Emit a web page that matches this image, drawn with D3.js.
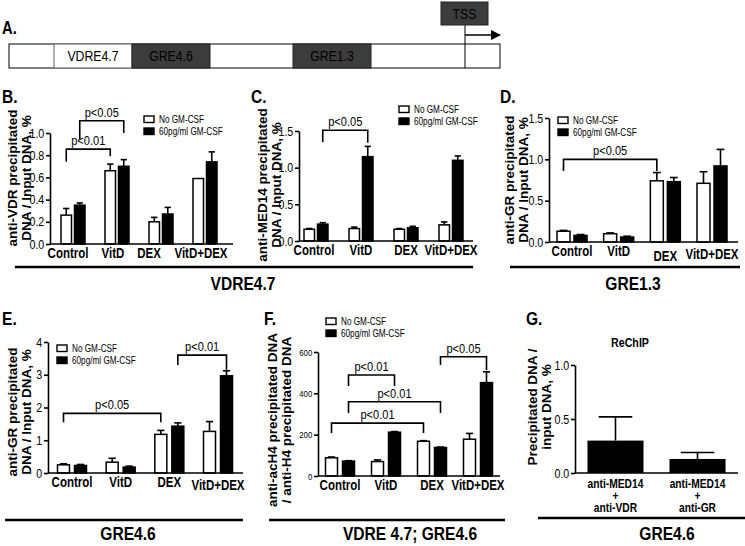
<!DOCTYPE html>
<html>
<head>
<meta charset="utf-8">
<script src="https://cdn.jsdelivr.net/npm/d3@7"></script>
<style>
  body { margin: 0; background: #fff; }
  text { font-family: "Liberation Sans", Arial, sans-serif; fill: #000; }
  .rot { font-weight: bold; font-size: 13.5px; }
</style>
</head>
<body>
<svg id="fig" width="745" height="546"></svg>
<script>
"use strict";

var treatments = ["Control", "VitD", "DEX", "VitD+DEX"];
var seriesNames = ["No GM-CSF", "60pg/ml GM-CSF"];

// B. anti-VDR ChIP, VDRE4.7
var vdrNo = [0.26, 0.66, 0.20, 0.59], vdrNoErr = [0.06, 0.06, 0.04, 0.0];
var vdrGm = [0.35, 0.70, 0.27, 0.74], vdrGmErr = [0.02, 0.06, 0.06, 0.09];
var vdrTicks = [0, 0.2, 0.4, 0.6, 0.8, 1.0];

// C. anti-MED14 ChIP, VDRE4.7
var medNo = [0.16, 0.17, 0.16, 0.22], medNoErr = [0.01, 0.02, 0.01, 0.04];
var medGm = [0.23, 1.15, 0.18, 1.10], medGmErr = [0.02, 0.14, 0.02, 0.06];
var medTicks = [0, 0.5, 1.0, 1.5];

// D. anti-GR ChIP, GRE1.3
var gr13No = [0.13, 0.10, 0.74, 0.71], gr13NoErr = [0.01, 0.01, 0.10, 0.14];
var gr13Gm = [0.08, 0.06, 0.73, 0.92], gr13GmErr = [0.01, 0.01, 0.05, 0.20];
var gr13Ticks = [0, 0.5, 1.0, 1.5];

// E. anti-GR ChIP, GRE4.6
var gr46No = [0.25, 0.33, 1.18, 1.27], gr46NoErr = [0.03, 0.12, 0.12, 0.30];
var gr46Gm = [0.23, 0.18, 1.43, 2.97], gr46GmErr = [0.03, 0.03, 0.10, 0.15];
var gr46Ticks = [0, 1, 2, 3, 4];

// F. acH4 / H4, VDRE 4.7; GRE4.6
var h4No = [88, 70, 168, 178], h4NoErr = [4, 8, 3, 28];
var h4Gm = [72, 212, 138, 452], h4GmErr = [2, 3, 2, 52];
var h4Ticks = [0, 200, 400, 600];

// G. ReChIP, GRE4.6
var rechipPairs = [["anti-MED14", "+", "anti-VDR"], ["anti-MED14", "+", "anti-GR"]];
var rechipVal = [0.30, 0.13], rechipErr = [0.22, 0.06];
var rechipTicks = [0, 0.5, 1.0];

// significance brackets: [fromCat, fromSeries, toCat, toSeries, top, leftEnd, rightEnd, label]
var vdrSig = [[0, 0, 1, 0, 0.855, 0.74, 0.79, "p<0.01"], [0, 1, 1, 1, 1.11, 0.94, 1.0, "p<0.05"]];
var medSig = [[0, 1, 1, 1, 1.51, 1.35, 1.34, "p<0.05"]];
var gr13Sig = [[0, 0, 2, 0, 1.0, 0.86, 0.86, "p<0.05"]];
var gr46Sig = [[0, 0, 2, 0, 1.82, 1.55, 1.55, "p<0.05"], [2, 1, 3, 1, 3.6, 3.3, 3.15, "p<0.01"]];
var h4Sig = [[0, 1, 1, 1, 489, 435, 435, "p<0.01"], [0, 1, 2, 1, 359, 305, 305, "p<0.01"],
             [0, 0, 2, 0, 256, 208, 208, "p<0.01"], [2, 1, 3, 1, 577, 537, 513, "p<0.05"]];

// A. promoter schematic (schematic units, not to scale)
var promoterEdges = [0, 45, 123, 201, 284, 362, 456, 491];
var promoterNames = ["", "VDRE4.7", "GRE4.6", "", "GRE1.3", "", ""];
var promoterKinds = ["plain", "vdre", "gre", "plain", "gre", "plain", "plain"];
var tssPos = 456;

var NARROW = 0.82;
var svg = d3.select("#fig");

// horizontal text is condensed, like the original figure
function ntext(parent, x, y, str, size, opts) {
  opts = opts || {};
  return parent.append("text")
    .attr("transform", "translate(" + x + "," + y + ") scale(" + NARROW + ",1)")
    .attr("text-anchor", opts.anchor || "middle")
    .attr("font-size", size)
    .attr("font-weight", opts.bold ? "bold" : null)
    .attr("fill", opts.fill || "#000")
    .text(str);
}

function bracket(g, x, y, s) {
  var xl = x(s[0], s[1]), xr = x(s[2], s[3]);
  g.append("path")
    .attr("fill", "none").attr("stroke", "#000").attr("stroke-width", 1.6)
    .attr("d", "M" + xl + "," + y(s[5]) + "V" + y(s[4]) + "H" + xr + "V" + y(s[6]));
  ntext(g, (xl + xr) / 2, y(s[4]) - 4, s[7], 13.5);
}

function rotTitle(lines, cx, cy) {
  lines.forEach(function(t, i) {
    svg.append("text").attr("class", "rot")
      .attr("transform", "translate(" + (cx + i * 14) + "," + cy + ") rotate(-90) scale(1,0.88)")
      .attr("text-anchor", "middle").attr("dy", "0.35em")
      .text(t);
  });
}

function legend(x, y) {
  var lg = svg.append("g").attr("transform", "translate(" + x + "," + y + ")");
  seriesNames.forEach(function(n, i) {
    lg.append("rect").attr("x", 0).attr("y", i * 12).attr("width", 10).attr("height", 6.5)
      .attr("fill", i ? "#000" : "#fff").attr("stroke", "#000").attr("stroke-width", 1.4);
    ntext(lg, 15, i * 12 + 7, n, 10, { anchor: "start" });
  });
}

function styleAxis(ax, size) {
  ax.selectAll("path,line").attr("stroke-width", 1.6);
  ax.selectAll("text").attr("font-size", size).attr("fill", "#111")
    .attr("transform", "scale(" + NARROW + ",1)");
}

function drawPanel(p) {
  var y = d3.scaleLinear().domain([0, p.max]).range([p.y0, p.y1]);
  var xc = d3.scalePoint().domain(treatments).range(p.groups);
  var barX = function(c, s) { return xc(treatments[c]) + (s === 0 ? -p.gap / 2 - p.bw : p.gap / 2); };
  var barMid = function(c, s) { return barX(c, s) + p.bw / 2; };

  var rows = [];
  treatments.forEach(function(t, i) {
    rows.push({ c: i, s: 0, v: p.no[i], e: p.noErr[i] });
    rows.push({ c: i, s: 1, v: p.gm[i], e: p.gmErr[i] });
  });

  var g = svg.append("g");

  // error bars (upper only)
  var eb = g.selectAll("g.err").data(rows.filter(function(d) { return d.e > 0; })).join("g");
  eb.append("line")
    .attr("x1", function(d) { return barMid(d.c, d.s); }).attr("x2", function(d) { return barMid(d.c, d.s); })
    .attr("y1", function(d) { return y(d.v); }).attr("y2", function(d) { return y(d.v + d.e); })
    .attr("stroke", "#000").attr("stroke-width", 1.6);
  eb.append("line")
    .attr("x1", function(d) { return barMid(d.c, d.s) - p.bw * 0.3; })
    .attr("x2", function(d) { return barMid(d.c, d.s) + p.bw * 0.3; })
    .attr("y1", function(d) { return y(d.v + d.e); }).attr("y2", function(d) { return y(d.v + d.e); })
    .attr("stroke", "#000").attr("stroke-width", 1.6);

  g.selectAll("rect.bar").data(rows).join("rect")
    .attr("x", function(d) { return barX(d.c, d.s); })
    .attr("y", function(d) { return y(d.v); })
    .attr("width", p.bw)
    .attr("height", function(d) { return y(0) - y(d.v); })
    .attr("fill", function(d) { return d.s ? "#000" : "#fff"; })
    .attr("stroke", "#000").attr("stroke-width", 1.5);

  var ax = g.append("g").attr("transform", "translate(" + p.x0 + ",0)")
    .call(d3.axisLeft(y).tickValues(p.ticks).tickSize(4).tickSizeOuter(0).tickFormat(p.fmt));
  styleAxis(ax, p.tickFont);
  g.append("line").attr("x1", p.x0).attr("x2", p.x1).attr("y1", y(0)).attr("y2", y(0))
    .attr("stroke", "#000").attr("stroke-width", 1.6);

  treatments.forEach(function(t, i) {
    ntext(g, xc(t) + (p.labelDx ? p.labelDx[i] : 0), y(0) + 14 + (p.labelDy ? p.labelDy[i] : 0),
      t, 14, { bold: true });
  });

  p.sig.forEach(function(s) { bracket(g, barMid, y, s); });
}

// ---------- A ----------
var px = d3.scaleLinear().domain([0, 491]).range([9, 500]);
var aTop = 44, aH = 24;
ntext(svg, 2, 34, "A.", 18, { bold: true, anchor: "start" });
svg.append("rect").attr("x", px(0)).attr("y", aTop).attr("width", px(491) - px(0)).attr("height", aH)
  .attr("fill", "#fff").attr("stroke", "#000").attr("stroke-width", 1);
promoterNames.forEach(function(n, i) {
  var k = promoterKinds[i];
  if (k === "plain") return;
  svg.append("rect").attr("x", px(promoterEdges[i])).attr("y", aTop)
    .attr("width", px(promoterEdges[i + 1]) - px(promoterEdges[i])).attr("height", aH)
    .attr("fill", k === "gre" ? "#3c3c3c" : "#fff")
    .attr("stroke", k === "gre" ? "#222" : "#777").attr("stroke-width", k === "gre" ? 1 : 1.2);
  ntext(svg, (px(promoterEdges[i]) + px(promoterEdges[i + 1])) / 2, aTop + 17, n, 15,
    { fill: k === "gre" ? "#7a7a7a" : "#000" });
});
svg.append("line").attr("x1", px(tssPos)).attr("x2", px(tssPos)).attr("y1", 25).attr("y2", aTop + aH)
  .attr("stroke", "#000").attr("stroke-width", 1);
svg.append("rect").attr("x", px(tssPos) - 24).attr("y", 2).attr("width", 47).attr("height", 23)
  .attr("fill", "#3c3c3c").attr("stroke", "#222");
ntext(svg, px(tssPos) - 0.5, 19, "TSS", 15, { fill: "#9a9a9a" });
svg.append("defs").append("marker").attr("id", "arr").attr("viewBox", "0 0 10 10")
  .attr("refX", 9).attr("refY", 5).attr("markerWidth", 7).attr("markerHeight", 7).attr("orient", "auto")
  .append("path").attr("d", "M0,0L10,5L0,10z").attr("fill", "#000");
svg.append("line").attr("x1", px(tssPos)).attr("x2", px(491)).attr("y1", 35).attr("y2", 35)
  .attr("stroke", "#000").attr("stroke-width", 1.5).attr("marker-end", "url(#arr)");

// ---------- panel letters ----------
[["B.", 2, 103], ["C.", 251, 103], ["D.", 500, 103], ["E.", 2, 325], ["F.", 264, 325], ["G.", 526, 325]]
  .forEach(function(l) { ntext(svg, l[1], l[2], l[0], 19, { bold: true, anchor: "start" }); });

// ---------- B ----------
drawPanel({ no: vdrNo, noErr: vdrNoErr, gm: vdrGm, gmErr: vdrGmErr, ticks: vdrTicks, fmt: d3.format(".1f"),
  max: 1.0, x0: 50, x1: 233, y0: 244, y1: 133, groups: [73, 205], bw: 10.5, gap: 3, tickFont: 13,
  labelDx: [-5, -4, -12, -4], sig: vdrSig });
rotTitle(["anti-VDR precipitated", "DNA / Input DNA, %"], 13, 178);
legend(144, 116);

// ---------- C ----------
drawPanel({ no: medNo, noErr: medNoErr, gm: medGm, gmErr: medGmErr, ticks: medTicks, fmt: d3.format(".1f"),
  max: 1.5, x0: 299, x1: 473, y0: 241, y1: 131, groups: [316, 451], bw: 10.5, gap: 3, tickFont: 13,
  labelDx: [-2, 0, 0, 0], sig: medSig });
rotTitle(["anti-MED14 precipitated", "DNA / Input DNA, %"], 263, 185);
legend(399, 106);

// ---------- D ----------
drawPanel({ no: gr13No, noErr: gr13NoErr, gm: gr13Gm, gmErr: gr13GmErr, ticks: gr13Ticks, fmt: d3.format(".1f"),
  max: 1.5, x0: 549, x1: 738, y0: 242, y1: 118, groups: [572, 712], bw: 13, gap: 4, tickFont: 13,
  labelDy: [0, 0, 5, 3], sig: gr13Sig });
rotTitle(["anti-GR precipitated", "DNA / Input DNA, %"], 510, 180);
legend(558, 117);

// ---------- E ----------
drawPanel({ no: gr46No, noErr: gr46NoErr, gm: gr46Gm, gmErr: gr46GmErr, ticks: gr46Ticks, fmt: d3.format("d"),
  max: 4, x0: 48, x1: 243, y0: 473, y1: 342, groups: [72, 218], bw: 12, gap: 5, tickFont: 13,
  labelDy: [0, 0, 0, 3], sig: gr46Sig });
rotTitle(["anti-GR precipitated", "DNA / Input DNA, %"], 13, 412);
legend(57, 345);

// ---------- F ----------
drawPanel({ no: h4No, noErr: h4NoErr, gm: h4Gm, gmErr: h4GmErr, ticks: h4Ticks, fmt: d3.format("d"),
  max: 600, x0: 318, x1: 500, y0: 476, y1: 352, groups: [340, 478], bw: 12, gap: 5, tickFont: 9.5,
  sig: h4Sig });
rotTitle(["anti-acH4 precipitated DNA", "/ anti-H4 precipitated DNA"], 273, 420);
legend(326, 318);

// ---------- G ----------
(function() {
  var y = d3.scaleLinear().domain([0, 1.0]).range([473, 365]);
  var x = d3.scaleBand().domain(d3.range(rechipVal.length)).range([575, 738]).paddingInner(0.317).paddingOuter(0.152);
  var mid = function(i) { return x(i) + x.bandwidth() / 2; };
  var g = svg.append("g");
  g.selectAll("line.e").data(rechipVal).join("line")
    .attr("x1", function(d, i) { return mid(i); }).attr("x2", function(d, i) { return mid(i); })
    .attr("y1", function(d) { return y(d); })
    .attr("y2", function(d, i) { return y(d + rechipErr[i]); })
    .attr("stroke", "#000").attr("stroke-width", 1.6);
  g.selectAll("line.c").data(rechipVal).join("line")
    .attr("x1", function(d, i) { return x(i) + x.bandwidth() * 0.2; })
    .attr("x2", function(d, i) { return x(i) + x.bandwidth() * 0.8; })
    .attr("y1", function(d, i) { return y(d + rechipErr[i]); })
    .attr("y2", function(d, i) { return y(d + rechipErr[i]); })
    .attr("stroke", "#000").attr("stroke-width", 1.6);
  g.selectAll("rect").data(rechipVal).join("rect")
    .attr("x", function(d, i) { return x(i); }).attr("width", x.bandwidth())
    .attr("y", function(d) { return y(d); }).attr("height", function(d) { return y(0) - y(d); })
    .attr("fill", "#000");
  var ax = g.append("g").attr("transform", "translate(575,0)")
    .call(d3.axisLeft(y).tickValues(rechipTicks).tickSize(4).tickSizeOuter(0).tickFormat(d3.format(".1f")));
  styleAxis(ax, 13);
  g.append("line").attr("x1", 575).attr("x2", 738).attr("y1", y(0)).attr("y2", y(0))
    .attr("stroke", "#000").attr("stroke-width", 1.6);
  rechipPairs.forEach(function(lines, i) {
    lines.forEach(function(t, j) {
      ntext(g, mid(i), y(0) + 15 + j * 12, t, 12.5, { bold: true });
    });
  });
  ntext(g, 630, 347, "ReChIP", 13, { bold: true });
})();
rotTitle(["Precipitated DNA /", "input DNA, %"], 533, 407);

// ---------- region underlines ----------
[[15, 473, 267, "VDRE4.7", 243, 290], [510, 740, 267, "GRE1.3", 633, 290],
 [5, 243, 520, "GRE4.6", 128, 540], [269, 505, 520, "VDRE 4.7; GRE4.6", 410, 540],
 [538, 745, 518, "GRE4.6", 667, 540]].forEach(function(u) {
  svg.append("line").attr("x1", u[0]).attr("x2", u[1]).attr("y1", u[2]).attr("y2", u[2])
    .attr("stroke", "#000").attr("stroke-width", 2.6);
  ntext(svg, u[4], u[5], u[3], 19, { bold: true });
});
</script>
</body>
</html>
